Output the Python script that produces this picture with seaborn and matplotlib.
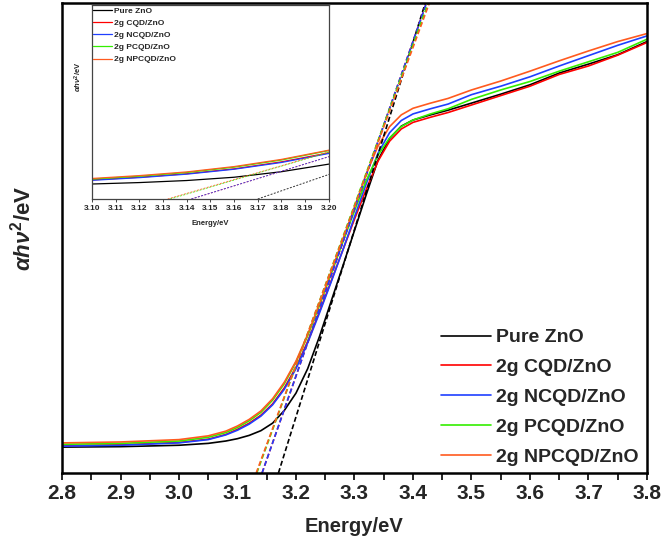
import numpy as np
import pandas as pd
import matplotlib
matplotlib.use("Agg")
import matplotlib.pyplot as plt
from matplotlib.lines import Line2D
import seaborn as sns

# ---------------- data ----------------
energy = [2.80, 2.90, 3.00, 3.05, 3.08, 3.10, 3.12, 3.14, 3.16, 3.18, 3.20,
          3.22, 3.24, 3.26, 3.28, 3.30, 3.32, 3.34, 3.36, 3.38, 3.40, 3.43,
          3.46, 3.50, 3.55, 3.60, 3.65, 3.70, 3.75, 3.80]

pure_zno = [0.055, 0.056, 0.059, 0.063, 0.068, 0.073, 0.080, 0.090, 0.106, 0.133, 0.170,
            0.222, 0.290, 0.365, 0.440, 0.516, 0.592, 0.665, 0.712, 0.738, 0.751, 0.762,
            0.772, 0.787, 0.806, 0.826, 0.851, 0.870, 0.890, 0.918]
cqd_zno = [0.058, 0.060, 0.065, 0.072, 0.082, 0.093, 0.106, 0.123, 0.147, 0.181, 0.225,
           0.280, 0.343, 0.408, 0.474, 0.540, 0.603, 0.663, 0.706, 0.732, 0.746, 0.757,
           0.767, 0.783, 0.803, 0.823, 0.848, 0.866, 0.889, 0.916]
ncqd_zno = [0.057, 0.059, 0.064, 0.071, 0.081, 0.091, 0.104, 0.121, 0.145, 0.178, 0.222,
            0.277, 0.340, 0.406, 0.474, 0.545, 0.615, 0.680, 0.724, 0.750, 0.764, 0.775,
            0.785, 0.805, 0.823, 0.843, 0.866, 0.888, 0.910, 0.930]
pcqd_zno = [0.061, 0.063, 0.068, 0.076, 0.086, 0.097, 0.111, 0.129, 0.155, 0.190, 0.236,
            0.292, 0.356, 0.423, 0.491, 0.558, 0.622, 0.676, 0.713, 0.737, 0.751, 0.764,
            0.775, 0.795, 0.815, 0.833, 0.855, 0.875, 0.895, 0.923]
npcqd_zno = [0.064, 0.066, 0.071, 0.079, 0.089, 0.100, 0.114, 0.132, 0.158, 0.193, 0.238,
             0.295, 0.360, 0.428, 0.497, 0.566, 0.636, 0.695, 0.737, 0.762, 0.776, 0.787,
             0.797, 0.815, 0.834, 0.855, 0.877, 0.898, 0.918, 0.935]

series_names = ["Pure ZnO", "2g CQD/ZnO", "2g NCQD/ZnO", "2g PCQD/ZnO", "2g NPCQD/ZnO"]
series_values = [pure_zno, cqd_zno, ncqd_zno, pcqd_zno, npcqd_zno]
colors = ["#000000", "#ff0000", "#1f3fff", "#33ee00", "#ff5a1f"]

# Tauc tangent lines: x where the line is at y=0 and where it reaches y=1
tangent_x0 = [3.170, 3.142, 3.142, 3.133, 3.132]
tangent_x1 = [3.421, 3.423, 3.423, 3.426, 3.428]
tangent_y = [0.0, 1.0]

main_xticks = [2.8, 2.9, 3.0, 3.1, 3.2, 3.3, 3.4, 3.5, 3.6, 3.7, 3.8]
inset_xticks = [3.10, 3.11, 3.12, 3.13, 3.14, 3.15, 3.16, 3.17, 3.18, 3.19, 3.20]

# ---------------- build tables ----------------
df = pd.DataFrame({
    "Energy": np.tile(energy, len(series_names)),
    "value": np.concatenate(series_values),
    "sample": np.repeat(series_names, len(energy)),
})
tan_df = pd.DataFrame({
    "Energy": np.concatenate([[a, b] for a, b in zip(tangent_x0, tangent_x1)]),
    "value": np.tile(tangent_y, len(series_names)),
    "sample": np.repeat(series_names, 2),
})
palette = dict(zip(series_names, colors))

# ---------------- style ----------------
sns.set_style("white")
plt.rcParams["font.family"] = ["Liberation Sans", "DejaVu Sans"]
plt.rcParams["font.weight"] = "bold"
plt.rcParams["axes.labelweight"] = "bold"
plt.rcParams["mathtext.fontset"] = "custom"
plt.rcParams["mathtext.rm"] = "Liberation Sans:bold"
plt.rcParams["mathtext.it"] = "Liberation Sans:italic:bold"
plt.rcParams["mathtext.bf"] = "Liberation Sans:bold"

fig = plt.figure(figsize=(6.61, 5.48), dpi=100)
ax = fig.add_axes([0.0938, 0.1369, 0.885, 0.8576])

sns.lineplot(data=df, x="Energy", y="value", hue="sample", hue_order=series_names,
             palette=palette, estimator=None, sort=False, lw=1.2, legend=False, ax=ax)
for name in series_names:
    sub = tan_df[tan_df["sample"] == name]
    sns.lineplot(x=sub["Energy"].values, y=sub["value"].values, color=palette[name],
                 lw=1.2, linestyle=(0, (3, 1.6)), estimator=None, sort=False, ax=ax)

ax.set_xlim(2.8, 3.8)
ax.set_ylim(0, 1)
ax.set_xticks(main_xticks)
ax.set_xticklabels([f"{t:.1f}" for t in main_xticks])
ax.set_xticks(np.arange(2.85, 3.8, 0.1), minor=True)
ax.set_yticks([])
ax.tick_params(axis="x", which="both", direction="out", length=5, width=1.4,
               labelsize=15, pad=3, bottom=True)
for lab in ax.get_xticklabels():
    lab.set_fontweight("bold")
for sp in ax.spines.values():
    sp.set_linewidth(1.8)
    sp.set_color("black")
ax.set_xlabel("Energy/eV", fontsize=14.5, fontweight="bold", labelpad=10)
ax.set_ylabel(r"$\alpha h\nu^{2}$/eV", fontsize=16, fontweight="bold")
ax.yaxis.set_label_coords(-0.046, 0.52)

handles = [Line2D([0], [0], color=c, lw=1.2) for c in colors]
ax.legend(handles, series_names, loc="upper left", bbox_to_anchor=(0.648, 0.307),
          frameon=False, fontsize=14, handlelength=2.57, handletextpad=0.26,
          labelspacing=0.63, borderpad=0, borderaxespad=0)

# ---------------- inset ----------------
ins = fig.add_axes([0.139, 0.6369, 0.3585, 0.354])
sns.lineplot(data=df, x="Energy", y="value", hue="sample", hue_order=series_names,
             palette=palette, estimator=None, sort=False, lw=0.9, legend=False, ax=ins)
for name in series_names:
    sub = tan_df[tan_df["sample"] == name]
    sns.lineplot(x=sub["Energy"].values, y=sub["value"].values, color=palette[name],
                 lw=0.7, linestyle=(0, (2, 1.5)), alpha=0.8, estimator=None, sort=False, ax=ins)
ins.set_xlim(3.10, 3.20)
ins.set_ylim(0, 0.946)
ins.set_xticks(inset_xticks)
ins.set_xticklabels([f"{t:.2f}" for t in inset_xticks])
ins.set_yticks([])
ins.tick_params(axis="x", direction="out", length=2, width=0.6, labelsize=6, pad=2, bottom=True)
for lab in ins.get_xticklabels():
    lab.set_fontweight("bold")
for sp in ins.spines.values():
    sp.set_linewidth(0.9)
    sp.set_color("#444444")
ins.set_xlabel("Energy/eV", fontsize=5.5, fontweight="bold", labelpad=6)
ins.set_ylabel(r"$\alpha h\nu^{2}$/eV", fontsize=5.5, fontweight="bold")
ins.yaxis.set_label_coords(-0.035, 0.63)
ins.legend([Line2D([0], [0], color=c, lw=0.9) for c in colors], series_names,
           loc="upper left", bbox_to_anchor=(0.004, 0.99), frameon=False, fontsize=6,
           handlelength=2.3, handletextpad=0.25, labelspacing=0.52, borderpad=0, borderaxespad=0)

fig.savefig("out.png", dpi=100)
